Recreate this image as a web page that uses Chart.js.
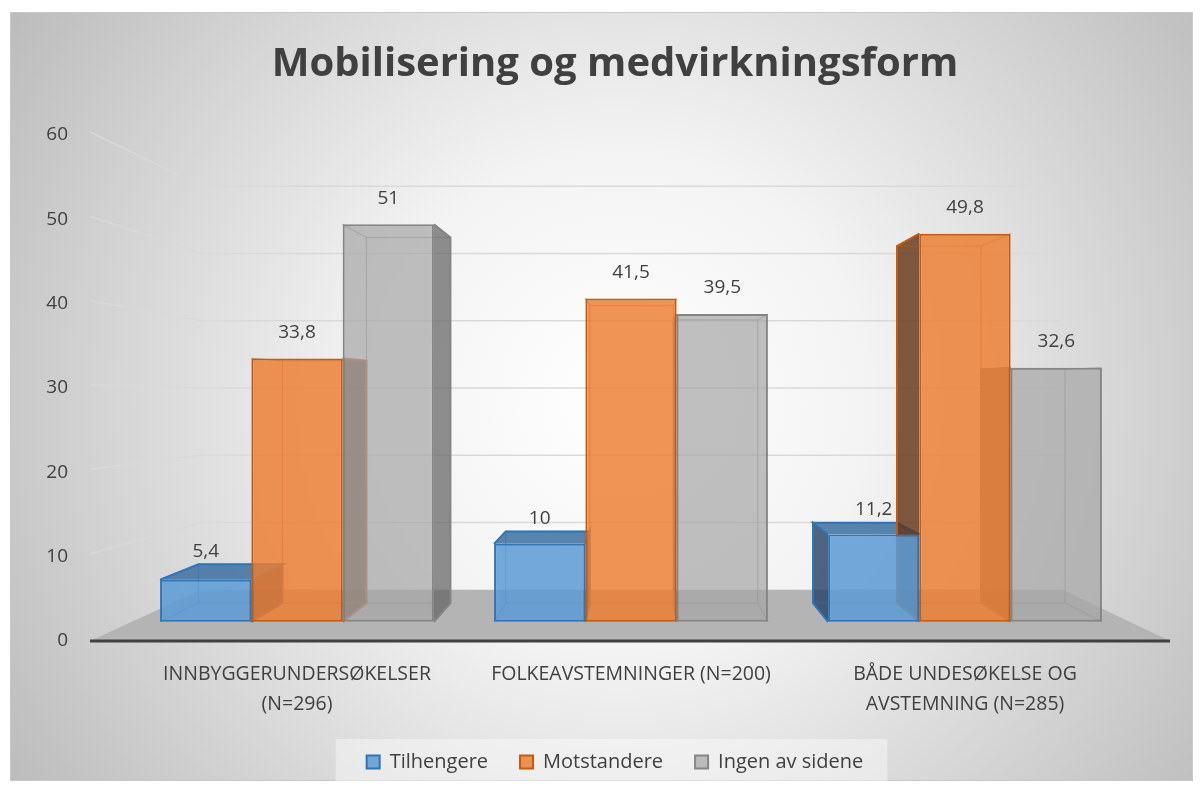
<!DOCTYPE html>
<html>
<head>
<meta charset="utf-8">
<script src="https://cdn.jsdelivr.net/npm/chart.js@4.4.1/dist/chart.umd.min.js"></script>
<style>
  html, body { margin: 0; padding: 0; background: #fff; }
  #wrap { width: 1203px; height: 791px; position: relative; }
</style>
</head>
<body>
<div id="wrap"><canvas id="mobChart"></canvas></div>
<script>
const categories = [['INNBYGGERUNDERSØKELSER', '(N=296)'], 'FOLKEAVSTEMNINGER (N=200)', ['BÅDE UNDESØKELSE OG', 'AVSTEMNING (N=285)']];
const seriesNames = ['Tilhengere', 'Motstandere', 'Ingen av sidene'];
const tilhengere = [5.4, 10, 11.2];
const motstandere = [33.8, 41.5, 49.8];
const ingen = [51, 39.5, 32.6];
const yTicks = [0, 10, 20, 30, 40, 50, 60];

const FONT = "'Open Sans', Lato, sans-serif";
const TEXT = '#404040';

// fake perspective (Excel 3D look): everything shrinks toward a vanishing point
const BAR_PLANE = 0.924;   // bar front faces vs. axis plane
const BAR_DEPTH = 0.92;    // bar back faces vs. bar front faces
const WALL = 0.797;        // back wall vs. axis plane
const SHIFT = 26;          // title + legend sit right of centre in the original

const fills = ['rgba(91,155,213,0.85)', 'rgba(237,125,49,0.82)', 'rgba(165,165,165,0.7)'];
const borders = ['#2e75b6', '#c55a11', '#858585'];
const sides = ['rgba(35,65,100,0.8)', 'rgba(100,55,25,0.82)', 'rgba(95,95,95,0.7)'];
const tops = ['rgba(60,110,160,0.85)', 'rgba(190,95,30,0.85)', 'rgba(130,130,130,0.8)'];
const edges = ['rgba(46,117,182,0.55)', 'rgba(197,90,17,0.55)', 'rgba(120,120,120,0.55)'];

function persp(chart) {
  const a = chart.chartArea;
  return { vx: (a.left + a.right) / 2 + 9, vy: chart.scales.y.getPixelForValue(30) };
}
function proj(p, x, y, s) {
  return [p.vx + s * (x - p.vx), p.vy + s * (y - p.vy)];
}
function fmt(v) { return String(v).replace('.', ','); }

const scene = {
  id: 'scene',
  afterLayout(chart) {
    chart.legend.left += SHIFT;
    chart.legend.right += SHIFT;
    chart.titleBlock.left += SHIFT;
    chart.titleBlock.right += SHIFT;
  },
  beforeDraw(chart) {
    const ctx = chart.ctx;
    ctx.save();
    ctx.fillStyle = '#fff';
    ctx.fillRect(0, 0, chart.width, chart.height);
    const g = ctx.createRadialGradient(620, 400, 0, 620, 400, 720);
    g.addColorStop(0, '#ffffff');
    g.addColorStop(0.35, '#f3f3f3');
    g.addColorStop(1, '#bcbcbc');
    ctx.fillStyle = g;
    ctx.fillRect(10, 12, 1182, 768);
    ctx.strokeStyle = '#c8c8c8';
    ctx.lineWidth = 1;
    ctx.strokeRect(10.5, 12.5, 1182, 768);
    // legend backdrop
    const hb = chart.legend.legendHitBoxes || [];
    if (hb.length) {
      const x0 = Math.min(...hb.map(h => h.left)) - 31;
      const x1 = Math.max(...hb.map(h => h.left + h.width)) + 24;
      const yc = hb[0].top + hb[0].height / 2;
      ctx.fillStyle = 'rgba(255,255,255,0.4)';
      ctx.fillRect(x0, yc - 23, x1 - x0, 46);
    }
    ctx.restore();
  },
  beforeDatasetsDraw(chart) {
    const ctx = chart.ctx, a = chart.chartArea, ys = chart.scales.y;
    const p = persp(chart);
    const fL = a.left - 40, fR = a.right + 38;
    const y0 = ys.getPixelForValue(0);
    const bL = p.vx + WALL * (fL - p.vx), bR = p.vx + WALL * (fR - p.vx);
    const yb0 = ys.getPixelForValue(30 + WALL * (0 - 30));
    ctx.save();
    // walls / gridlines
    ctx.strokeStyle = '#d9d9d9';
    ctx.lineWidth = 1.5;
    yTicks.slice(1).forEach(v => {
      const yf = ys.getPixelForValue(v) - 3;
      const yb = ys.getPixelForValue(30 + WALL * (v - 30));
      ctx.beginPath();
      ctx.moveTo(fL, yf);
      ctx.lineTo(bL, yb);
      ctx.lineTo(bR, yb);
      ctx.stroke();
    });
    // floor
    ctx.fillStyle = '#b4b4b4';
    ctx.beginPath();
    ctx.moveTo(fL, y0);
    ctx.lineTo(bL, yb0);
    ctx.lineTo(bR, yb0);
    ctx.lineTo(fR, y0);
    ctx.closePath();
    ctx.fill();
    // axis line
    ctx.strokeStyle = '#404040';
    ctx.lineWidth = 3;
    ctx.beginPath();
    ctx.moveTo(fL, y0);
    ctx.lineTo(fR, y0);
    ctx.stroke();

    // hidden parts of the 3D bars
    chart.data.datasets.forEach((ds, di) => {
      chart.getDatasetMeta(di).data.forEach(bar => {
        const l = bar.x - bar.width / 2, r = bar.x + bar.width / 2, t = bar.y, b = bar.base;
        const [bl, bt] = proj(p, l, t, BAR_DEPTH);
        const [br, bb] = proj(p, r, b, BAR_DEPTH);
        if (bl < l) {
          ctx.fillStyle = sides[di];
          ctx.beginPath();
          ctx.moveTo(l, t); ctx.lineTo(bl, bt); ctx.lineTo(bl, bb); ctx.lineTo(l, b);
          ctx.closePath(); ctx.fill();
        }
        if (br > r) {
          ctx.fillStyle = sides[di];
          ctx.beginPath();
          ctx.moveTo(r, t); ctx.lineTo(br, bt); ctx.lineTo(br, bb); ctx.lineTo(r, b);
          ctx.closePath(); ctx.fill();
        }
        if (bt < t) {
          ctx.fillStyle = tops[di];
          ctx.beginPath();
          ctx.moveTo(l, t); ctx.lineTo(bl, bt); ctx.lineTo(br, bt); ctx.lineTo(r, t);
          ctx.closePath(); ctx.fill();
        }
        ctx.strokeStyle = edges[di];
        ctx.lineWidth = 1.2;
        ctx.strokeRect(bl, bt, br - bl, bb - bt);
        ctx.beginPath();
        ctx.moveTo(l, t); ctx.lineTo(bl, bt);
        ctx.moveTo(r, t); ctx.lineTo(br, bt);
        ctx.moveTo(l, b); ctx.lineTo(bl, bb);
        ctx.moveTo(r, b); ctx.lineTo(br, bb);
        ctx.stroke();
        // outer outline of side/top in border color
        ctx.strokeStyle = borders[di];
        ctx.lineWidth = 2;
        ctx.beginPath();
        if (bt < t) { ctx.moveTo(l, t); ctx.lineTo(bl, bt); ctx.lineTo(br, bt); ctx.lineTo(r, t); }
        if (bl < l) { ctx.moveTo(l, t); ctx.lineTo(bl, bt); ctx.lineTo(bl, bb); ctx.lineTo(l, b); }
        if (br > r) { ctx.moveTo(r, t); ctx.lineTo(br, bt); ctx.lineTo(br, bb); ctx.lineTo(r, b); }
        ctx.stroke();
      });
    });
    ctx.restore();
  },
  afterDatasetsDraw(chart) {
    const ctx = chart.ctx, p = persp(chart);
    ctx.save();
    ctx.fillStyle = TEXT;
    ctx.font = '19px ' + FONT;
    ctx.textAlign = 'center';
    ctx.textBaseline = 'middle';
    chart.data.datasets.forEach((ds, di) => {
      chart.getDatasetMeta(di).data.forEach((bar, i) => {
        const bt = proj(p, bar.x, bar.y, BAR_DEPTH)[1];
        const y = bt < bar.y ? bt - 13 : bar.y - 26;
        ctx.fillText(fmt(ds.data[i]), bar.x, y);
      });
    });
    ctx.restore();
  }
};

const series = [tilhengere, motstandere, ingen];

new Chart(document.getElementById('mobChart'), {
  type: 'bar',
  data: {
    labels: categories,
    datasets: series.map((d, i) => ({
      label: seriesNames[i],
      data: d,
      backgroundColor: fills[i],
      borderColor: borders[i],
      borderWidth: 2,
      borderSkipped: false,
      yAxisID: 'yBar'
    }))
  },
  options: {
    responsive: true,
    maintainAspectRatio: false,
    animation: false,
    layout: { padding: { top: 41, left: 46, right: 71, bottom: 9 } },
    datasets: { bar: { categoryPercentage: 0.82, barPercentage: 1.0 } },
    plugins: {
      title: {
        display: true,
        text: 'Mobilisering og medvirkningsform',
        color: TEXT,
        font: { family: FONT, size: 40, weight: 'bold' },
        padding: { top: 0, bottom: 46 }
      },
      legend: {
        position: 'bottom',
        labels: { color: TEXT, font: { family: FONT, size: 20 }, boxWidth: 13, boxHeight: 13, padding: 32 }
      },
      tooltip: { enabled: false }
    },
    scales: {
      x: {
        grid: { display: false, drawTicks: false },
        border: { display: false },
        afterFit: s => { s.height = 79; },
        ticks: {
          color: TEXT,
          font: { family: FONT, size: 19.5, lineHeight: 1.53 },
          padding: 19,
          maxRotation: 0,
          autoSkip: false
        }
      },
      y: {
        position: 'left',
        min: 0,
        max: 60,
        afterBuildTicks: s => { s.ticks = yTicks.map(v => ({ value: v })); },
        afterFit: s => { s.width = 84; },
        ticks: { color: TEXT, font: { family: FONT, size: 19 }, padding: 62 },
        grid: { display: false, drawTicks: false },
        border: { display: false }
      },
      yBar: {
        display: false,
        position: 'left',
        min: 30 - 30 / BAR_PLANE,
        max: 30 + 30 / BAR_PLANE,
        afterFit: s => { s.width = 0; }
      }
    }
  },
  plugins: [scene]
});
</script>
</body>
</html>
